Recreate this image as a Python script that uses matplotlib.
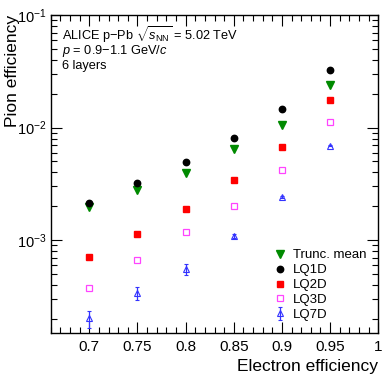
import matplotlib
matplotlib.use('Agg')
import matplotlib.pyplot as plt
from matplotlib.ticker import MultipleLocator, FixedLocator, LogLocator, NullFormatter

plt.rcParams['font.family'] = ['Liberation Sans', 'DejaVu Sans']
plt.rcParams['mathtext.fontset'] = 'custom'
plt.rcParams['mathtext.rm'] = 'Liberation Sans'
plt.rcParams['mathtext.it'] = 'Liberation Sans:italic'
plt.rcParams['mathtext.bf'] = 'Liberation Sans:bold'

# eficiencia de electrones
eff_e = [0.7, 0.75, 0.8, 0.85, 0.9, 0.95]

trunc_mean = [1.98e-3, 2.78e-3, 3.99e-3, 6.4e-3, 1.06e-2, 2.41e-2]
lq1d = [2.12e-3, 3.19e-3, 4.9e-3, 8.1e-3, 1.46e-2, 3.28e-2]
lq2d = [7.06e-4, 1.14e-3, 1.9e-3, 3.41e-3, 6.7e-3, 1.75e-2]
lq3d = [3.75e-4, 6.64e-4, 1.19e-3, 2.02e-3, 4.19e-3, 1.13e-2]
lq7d = [2.01e-4, 3.4e-4, 5.5e-4, 1.09e-3, 2.41e-3, 6.9e-3]
lq7d_err = [3.5e-5, 4.5e-5, 6e-5, 5e-5, 4e-5, 6e-5]

xticks = [0.7, 0.75, 0.8, 0.85, 0.9, 0.95, 1.0]

fig = plt.figure(figsize=(3.9, 3.79), dpi=100)
ax = fig.add_axes([0.130, 0.122, 0.840, 0.838])

ax.plot(eff_e, trunc_mean, linestyle='none', marker='v', ms=5.5, color='#008a00', label='Trunc. mean')
ax.plot(eff_e, lq1d, linestyle='none', marker='o', ms=4.6, color='black', label='LQ1D')
ax.plot(eff_e, lq2d, linestyle='none', marker='s', ms=4.6, color='#ff0000', label='LQ2D')
ax.plot(eff_e, lq3d, linestyle='none', marker='s', ms=4.6, mfc='none', mec='#ff44ff', mew=0.9, label='LQ3D')
ax.errorbar(eff_e, lq7d, yerr=lq7d_err, linestyle='none', marker='^', ms=5, mfc='none',
            mec='#3333ff', ecolor='#3333ff', mew=0.8, elinewidth=0.9, capsize=1.5, label='LQ7D')

ax.set_yscale('log')
ax.set_xlim(0.66, 1.0)
ax.set_ylim(1.5e-4, 0.1)

ax.xaxis.set_major_locator(FixedLocator(xticks))
ax.set_xticklabels(['%g' % t for t in xticks])
ax.xaxis.set_minor_locator(MultipleLocator(0.01))
ax.yaxis.set_major_locator(LogLocator(base=10))
ax.yaxis.set_minor_locator(LogLocator(base=10, subs=range(2, 10)))
ax.yaxis.set_minor_formatter(NullFormatter())

ax.tick_params(which='both', direction='in', top=True, right=True, width=0.8)
ax.tick_params(which='major', length=8, pad=5)
ax.tick_params(which='minor', length=4)
ax.tick_params(axis='x', labelsize=11)
ax.tick_params(axis='y', labelsize=10.5, pad=3)
for s in ax.spines.values():
    s.set_linewidth(1.0)

ax.set_xlabel('Electron efficiency', fontsize=12.5, loc='right')
ax.set_ylabel('Pion efficiency', fontsize=12.5, loc='top')
ax.yaxis.set_label_coords(-0.094, 1.0)

ax.text(0.035, 0.923, r'ALICE p$-$Pb $\sqrt{s_{\rm NN}}$ = 5.02 TeV', transform=ax.transAxes,
        fontsize=9.2, va='baseline')
ax.text(0.035, 0.877, r'$p$ = 0.9$-$1.1 GeV/$c$', transform=ax.transAxes, fontsize=9.2, va='baseline')
ax.text(0.035, 0.830, '6 layers', transform=ax.transAxes, fontsize=9.2, va='baseline')

ax.legend(loc='lower right', frameon=False, fontsize=9.5, handletextpad=0.4,
          labelspacing=0.2, borderaxespad=0.5, handlelength=1.2)

fig.savefig('out.png', dpi=100)
plt.close(fig)
